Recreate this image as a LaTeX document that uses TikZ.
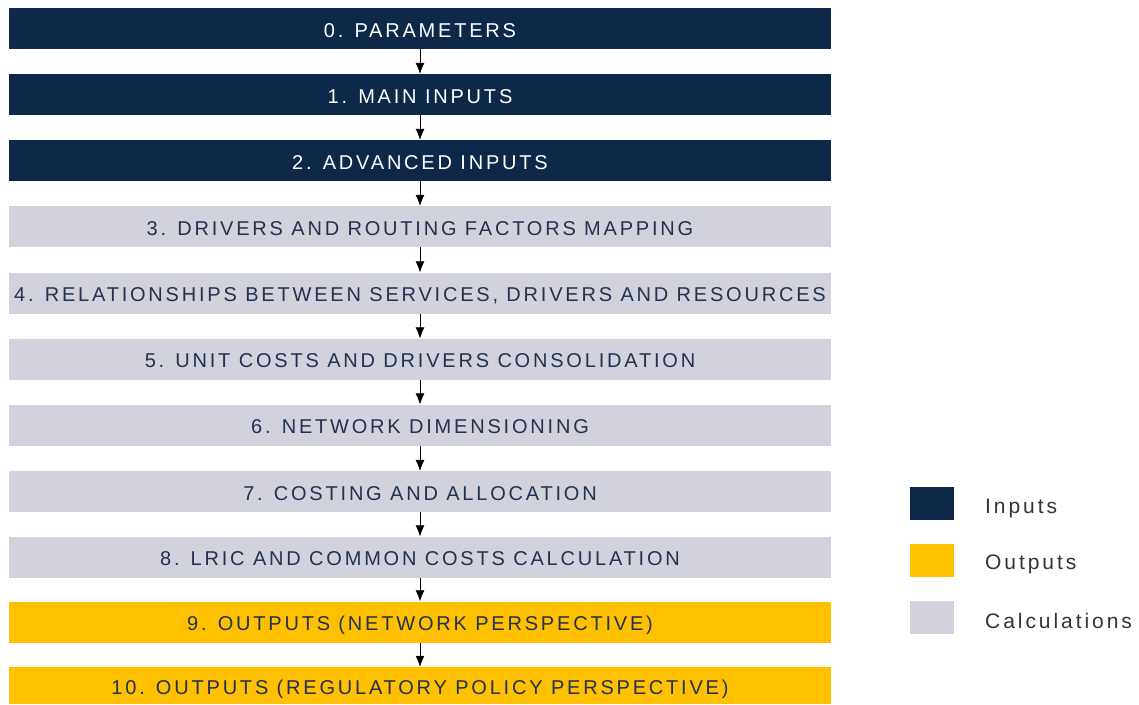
\documentclass[tikz,border=0pt]{standalone}
\usepackage{fontspec}
\setmainfont{Liberation Sans}[LetterSpace=14]
\usetikzlibrary{arrows.meta}

\definecolor{navy}{HTML}{0E2849}
\definecolor{amber}{HTML}{FFC000}
\definecolor{lilac}{HTML}{D2D2DC}
\definecolor{slate}{HTML}{22324F}

\tikzset{
  stepbase/.style={rectangle, minimum width=822pt, minimum height=41pt, inner sep=0pt, text height=17pt, text depth=0pt},
  inbox/.style={stepbase, fill=navy, text=white},
  calcbox/.style={stepbase, fill=lilac, text=slate},
  outbox/.style={stepbase, fill=amber, text=slate},
  keybox/.style={rectangle, minimum width=44pt, minimum height=33pt, inner sep=0pt},
  keytext/.style={anchor=west, text=black!80, inner sep=0pt, text height=15pt, text depth=0pt, font=\fontsize{21}{24}\selectfont}
}

\begin{document}
\begin{tikzpicture}[x=1pt, y=-1pt, >={Latex[length=11pt,width=9pt]}, font=\fontsize{20}{23}\selectfont]
  \useasboundingbox (0,0) rectangle (1139,704);

  %% model steps
  \node (p0) at (420,28.5) [inbox] {0. PARAMETERS};
  \node (p1) at (420,94.5) [inbox] {1. MAIN INPUTS};
  \node (p2) at (420,160.5) [inbox] {2. ADVANCED INPUTS};
  \node (p3) at (420,226.5) [calcbox] {3. DRIVERS AND ROUTING FACTORS MAPPING};
  \node (p4) at (420,293) [calcbox] {4. RELATIONSHIPS BETWEEN SERVICES, DRIVERS AND RESOURCES};
  \node (p5) at (420,359) [calcbox] {5. UNIT COSTS AND DRIVERS CONSOLIDATION};
  \node (p6) at (420,425) [calcbox] {6. NETWORK DIMENSIONING};
  \node (p7) at (420,491.5) [calcbox] {7. COSTING AND ALLOCATION};
  \node (p8) at (420,557) [calcbox] {8. LRIC AND COMMON COSTS CALCULATION};
  \node (p9) at (420,622) [outbox] {9. OUTPUTS (NETWORK PERSPECTIVE)};
  \node (p10) at (420,685.5) [outbox, minimum height=37pt] {10. OUTPUTS (REGULATORY POLICY PERSPECTIVE)};

  \draw[->, semithick] (p0) to (p1);
  \draw[->, semithick] (p1) to (p2);
  \draw[->, semithick] (p2) to (p3);
  \draw[->, semithick] (p3) to (p4);
  \draw[->, semithick] (p4) to (p5);
  \draw[->, semithick] (p5) to (p6);
  \draw[->, semithick] (p6) to (p7);
  \draw[->, semithick] (p7) to (p8);
  \draw[->, semithick] (p8) to (p9);
  \draw[->, semithick] (p9) to (p10);

  %% legend
  \node (kin) at (932,503) [keybox, fill=navy] {};
  \node (kout) at (932,560) [keybox, fill=amber] {};
  \node (kcalc) at (932,617) [keybox, fill=lilac] {};
  \node (tin) at (985,506) [keytext] {Inputs};
  \node (tout) at (985,562) [keytext] {Outputs};
  \node (tcalc) at (985,621) [keytext] {Calculations};
\end{tikzpicture}
\end{document}
